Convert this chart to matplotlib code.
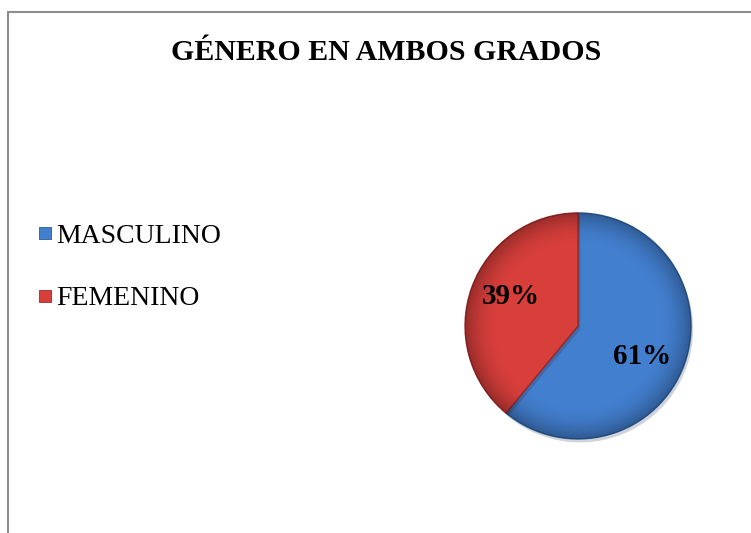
import matplotlib
matplotlib.use("Agg")
import numpy as np
from matplotlib import pyplot as plt
from matplotlib import patheffects
from matplotlib.lines import Line2D
from matplotlib.patches import Rectangle

labels = ["MASCULINO", "FEMENINO"]
values = [61, 39]
colors = ["#437fcf", "#d83f3b"]
edge_colors = ["#2c5b98", "#9a2a27"]

plt.rcParams['font.family'] = ['Liberation Serif', 'DejaVu Serif']

fig = plt.figure(figsize=(7.51, 5.33), dpi=100)

# chart frame (left and top edges visible)
fig.patches.append(Rectangle((8 / 751, -0.1), 1.2, (533 - 12) / 533 + 0.1,
                             transform=fig.transFigure, fill=False,
                             edgecolor="#8c8c8c", linewidth=1.5))

fig.text(386 / 751, 1 - 53 / 533, "GÉNERO EN AMBOS GRADOS",
         ha="center", va="center", fontsize=21.5, fontweight="bold")

ax = fig.add_axes([0.6162, 0.1722, 0.307, 0.4325])
wedges, texts = ax.pie(values, colors=colors, startangle=90, counterclock=False,
                       radius=1, wedgeprops={'linewidth': 1.0})

# soft shading towards the rim, like the original's bevel
yy, xx = np.mgrid[-1:1:300j, -1:1:300j]
rr = np.hypot(xx, yy)
shade = np.zeros((300, 300, 4))
shade[..., 3] = np.clip((rr - 0.7) / 0.3, 0, 1) ** 2 * 0.3
for w, ec in zip(wedges, edge_colors):
    w.set_edgecolor(ec)
    w.set_path_effects([patheffects.SimplePatchShadow(offset=(1.5, -2.5), alpha=0.2),
                        patheffects.Normal()])
    im = ax.imshow(shade, extent=(-1, 1, -1, 1), origin="lower", zorder=w.get_zorder() + 0.1)
    im.set_clip_path(w)
ax.set_xlim(-1.02, 1.02)
ax.set_ylim(-1.02, 1.02)
ax.set_aspect('equal')
ax.axis('off')

# percentage labels
ax.text(0.57, -0.27, f"{values[0]}%", ha="center", va="center",
        fontsize=21, fontweight="bold", zorder=5)
ax.text(-0.59, 0.26, f"{values[1]}%", ha="center", va="center",
        fontsize=21, fontweight="bold", zorder=5)

handles = [Line2D([], [], linestyle='none', marker='s', markersize=9,
                  markerfacecolor=c, markeredgecolor=ec, markeredgewidth=0.6)
           for c, ec in zip(colors, edge_colors)]
fig.legend(handles, labels, loc="center left", bbox_to_anchor=(38 / 751, 0.498),
           frameon=False, fontsize=20, handlelength=0.5, handletextpad=0.15,
           labelspacing=1.33, borderpad=0, borderaxespad=0)

fig.savefig("out.png", dpi=100)
